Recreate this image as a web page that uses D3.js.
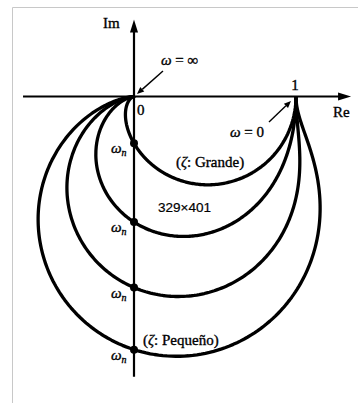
<!DOCTYPE html>
<html>
<head>
<meta charset="utf-8">
<script src="https://cdn.jsdelivr.net/npm/d3@7"></script>
<style>
  html, body { margin: 0; padding: 0; background: #fff; }
  svg { display: block; }
  text { stroke: #000; stroke-width: 0.35px; }
</style>
</head>
<body>
<svg id="chart" width="358" height="403"></svg>
<script>
// Damping ratios of the four polar plots (largest to smallest)
const zetas = [1.73, 0.645, 0.424, 0.32];
// Normalised frequency samples u = ω/ωn along each curve
const uSamples = d3.range(0, 1.5, 0.005).concat(d3.range(1.5, 40, 0.05));
// Axis extents in the complex plane
const reRange = [-0.685, 1.34];
const imRange = [0.475, -1.73];
// Axis tick labels
const tickLabels = [{ re: 0, text: "0" }, { re: 1, text: "1" }];

const svg = d3.select("#chart");

const x = d3.scaleLinear().domain([0, 1]).range([134, 296]);
const y = d3.scaleLinear().domain([0, -1]).range([96.5, 258.5]);

// Frame around the figure
svg.append("path")
  .attr("d", "M12.5,403 V7.5 H358")
  .attr("fill", "none").attr("stroke", "#c8c8c8").attr("stroke-width", 1);

// G(jω) = 1 / (1 - u² + j2ζu)
function G(u, z) {
  const a = 1 - u * u, b = 2 * z * u, d = a * a + b * b;
  return [a / d, -b / d];
}

const line = d3.line().x(d => x(d[0])).y(d => y(d[1])).curve(d3.curveLinear);

// Axes
svg.append("line")
  .attr("x1", x(reRange[0])).attr("y1", y(0)).attr("x2", x(reRange[1]) - 6).attr("y2", y(0))
  .attr("stroke", "#000").attr("stroke-width", 2.2);
svg.append("line")
  .attr("x1", x(0)).attr("y1", y(imRange[1])).attr("x2", x(0)).attr("y2", y(imRange[0]) + 6)
  .attr("stroke", "#000").attr("stroke-width", 2.2);
// Arrowheads
const xe = x(reRange[1]), ye = y(imRange[0]);
svg.append("path").attr("d", `M${xe},${y(0)} L${xe - 13},${y(0) - 4} L${xe - 13},${y(0) + 4} Z`).attr("fill", "#000");
svg.append("path").attr("d", `M${x(0)},${ye} L${x(0) - 4},${ye + 13} L${x(0) + 4},${ye + 13} Z`).attr("fill", "#000");

// Polar curves
const curves = svg.append("g");
zetas.forEach(z => {
  curves.append("path")
    .attr("d", line(uSamples.map(u => G(u, z))))
    .attr("fill", "none").attr("stroke", "#000").attr("stroke-width", 3.3)
    .attr("stroke-linejoin", "round");
});

// ω = ωn markers (u = 1) and labels
const serif = "'Liberation Serif', 'DejaVu Serif', serif";
zetas.forEach(z => {
  const p = G(1, z);
  svg.append("circle").attr("cx", x(p[0])).attr("cy", y(p[1])).attr("r", 4).attr("fill", "#000");
  const t = svg.append("text").attr("x", x(0) - 23).attr("y", y(p[1]) + 10)
    .attr("font-family", serif).attr("font-size", 15).attr("font-style", "italic");
  t.append("tspan").text("ω");
  t.append("tspan").attr("font-size", 10).attr("dy", 3).text("n");
});

// Axis labels
const txt = (xx, yy, s, opts = {}) => svg.append("text")
  .attr("x", xx).attr("y", yy).attr("font-family", serif)
  .attr("font-size", opts.size || 15).attr("text-anchor", opts.anchor || "start")
  .attr("font-style", opts.italic ? "italic" : null)
  .text(s);

txt(103, 28, "Im");
txt(333, 117, "Re");
tickLabels.forEach(t => {
  if (t.re === 0) txt(x(t.re) + 3, 115, t.text);
  else txt(x(t.re) - 1, 90, t.text, { anchor: "middle" });
});

// ω annotations
const omegaLabel = (xx, yy, rhs) => {
  const t = svg.append("text").attr("x", xx).attr("y", yy)
    .attr("font-family", serif).attr("font-size", 15);
  t.append("tspan").attr("font-style", "italic").text("ω");
  t.append("tspan").text(" = " + rhs);
};
omegaLabel(161, 65, "∞");
omegaLabel(230, 137, "0");

function arrow(x1, y1, x2, y2) {
  const ang = Math.atan2(y2 - y1, x2 - x1), L = 7, W = 3;
  const bx = x2 - L * Math.cos(ang), by = y2 - L * Math.sin(ang);
  svg.append("line").attr("x1", x1).attr("y1", y1).attr("x2", bx).attr("y2", by)
    .attr("stroke", "#000").attr("stroke-width", 1.4);
  svg.append("path")
    .attr("d", `M${x2},${y2} L${bx - W * Math.sin(ang)},${by + W * Math.cos(ang)} L${bx + W * Math.sin(ang)},${by - W * Math.cos(ang)} Z`)
    .attr("fill", "#000");
}
arrow(163, 71, 137, 94);
arrow(269, 122, 291, 101);

// Damping annotations
const zl = (xx, yy, word) => {
  const t = svg.append("text").attr("x", xx).attr("y", yy)
    .attr("font-family", serif).attr("font-size", 15);
  t.append("tspan").text("(");
  t.append("tspan").attr("font-style", "italic").text("ζ");
  t.append("tspan").text(": " + word + ")");
};
zl(176, 167, "Grande");
zl(143, 345, "Pequeño");

// Image size caption
svg.append("text").attr("x", 158).attr("y", 212)
  .attr("font-family", "'Liberation Sans', Arial, sans-serif").attr("font-size", 13.5)
  .style("stroke-width", "0.2px")
  .text("329×401");
</script>
</body>
</html>
